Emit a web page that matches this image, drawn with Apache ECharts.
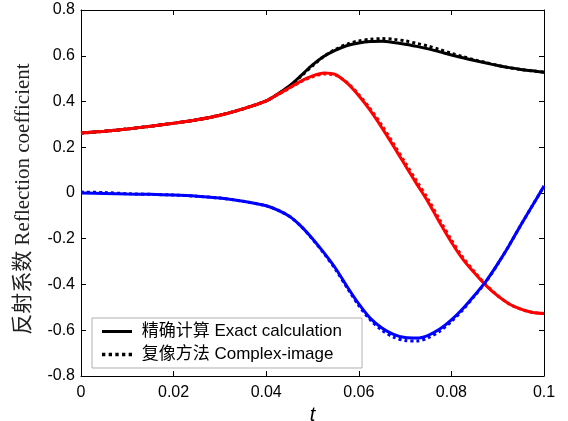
<!DOCTYPE html>
<html>
<head>
<meta charset="utf-8">
<script src="https://cdn.jsdelivr.net/npm/echarts@6/dist/echarts.min.js"></script>
<style>html,body{margin:0;padding:0;background:#fff;}#c{width:568px;height:421px;}</style>
</head>
<body>
<div id="c"></div>
<script>
var tVals = [0, 0.005, 0.01, 0.015, 0.02, 0.025, 0.03, 0.035, 0.04,
  0.0425, 0.045, 0.0475, 0.05, 0.0525, 0.055, 0.0575, 0.06, 0.0625, 0.065, 0.0675, 0.07,
  0.0725, 0.075, 0.0775, 0.08, 0.0825, 0.085, 0.0875, 0.09, 0.0925, 0.095, 0.0975, 0.1];
var xTicks = ['0', '0.02', '0.04', '0.06', '0.08', '0.1'];
var yTicks = ['-0.8', '-0.6', '-0.4', '-0.2', '0', '0.2', '0.4', '0.6', '0.8'];
var legendNames = ['精确计算 Exact calculation', '复像方法 Complex-image'];

var blackExact = [0.262, 0.270, 0.280, 0.292, 0.305, 0.320, 0.340, 0.368, 0.403,
  0.433, 0.468, 0.513, 0.560, 0.598, 0.625, 0.645, 0.656, 0.662, 0.663, 0.658, 0.650,
  0.641, 0.630, 0.617, 0.603, 0.591, 0.579, 0.568, 0.557, 0.548, 0.540, 0.534, 0.528];
var blackImage = [0.262, 0.270, 0.280, 0.292, 0.305, 0.320, 0.340, 0.368, 0.403,
  0.432, 0.466, 0.510, 0.556, 0.598, 0.628, 0.651, 0.665, 0.672, 0.675, 0.672, 0.665,
  0.654, 0.642, 0.627, 0.611, 0.596, 0.582, 0.570, 0.558, 0.548, 0.540, 0.534, 0.528];
var redExact = [0.262, 0.270, 0.280, 0.292, 0.305, 0.320, 0.340, 0.368, 0.403,
  0.431, 0.460, 0.489, 0.512, 0.525, 0.518, 0.480, 0.425, 0.360, 0.285, 0.205, 0.122,
  0.040, -0.040, -0.130, -0.215, -0.290, -0.350, -0.405, -0.450, -0.485, -0.508, -0.522, -0.527];
var redImage = [0.262, 0.270, 0.280, 0.292, 0.305, 0.320, 0.340, 0.368, 0.403,
  0.430, 0.458, 0.487, 0.508, 0.520, 0.515, 0.482, 0.430, 0.368, 0.295, 0.215, 0.133,
  0.052, -0.028, -0.118, -0.205, -0.282, -0.345, -0.402, -0.448, -0.485, -0.508, -0.522, -0.527];
var blueExact = [0.0, -0.002, -0.004, -0.006, -0.009, -0.014, -0.022, -0.036, -0.056,
  -0.075, -0.102, -0.145, -0.200, -0.262, -0.330, -0.410, -0.485, -0.548, -0.590, -0.618, -0.632,
  -0.634, -0.622, -0.595, -0.555, -0.505, -0.447, -0.385, -0.310, -0.228, -0.140, -0.055, 0.030];
var blueImage = [0.004, 0.002, -0.003, -0.006, -0.009, -0.014, -0.022, -0.036, -0.056,
  -0.075, -0.102, -0.145, -0.202, -0.265, -0.335, -0.415, -0.492, -0.555, -0.600, -0.630, -0.645,
  -0.647, -0.633, -0.604, -0.562, -0.510, -0.450, -0.387, -0.311, -0.228, -0.140, -0.055, 0.030];

function pairs(arr) { return tVals.map(function (t, i) { return [t, arr[i]]; }); }

function xLabel(v) { var s = (+v.toFixed(2)).toString(); return xTicks.indexOf(s) >= 0 ? s : ''; }
function yLabel(v) { var s = (+v.toFixed(1)).toString(); return yTicks.indexOf(s) >= 0 ? s : ''; }

function line(name, data, color, dotted, z) {
  return {
    name: name, type: 'line', data: pairs(data), smooth: 0.3, symbol: 'none', z: z,
    lineStyle: { color: color, width: 3, type: dotted ? [3, 3] : 'solid', cap: 'butt' },
    itemStyle: { color: color }
  };
}

var solidIcon = 'path://M0,0H30V3H0Z';
var dotIcon = 'path://M0,0H3V3H0Z M6,0H9V3H6Z M12,0H15V3H12Z M18,0H21V3H18Z M24,0H27V3H24Z';

var chart = echarts.init(document.getElementById('c'), null, { renderer: 'canvas' });
var fontSans = '"Liberation Sans", Arial, sans-serif';
chart.setOption({
  backgroundColor: '#fff',
  animation: false,
  grid: { left: 81, right: 24, top: 10, bottom: 45, containLabel: false, outerBoundsMode: 'none' },
  legend: {
    data: [{ name: legendNames[0], icon: solidIcon }, { name: legendNames[1], icon: dotIcon }],
    formatter: function (n) { return ' ' + n; },
    orient: 'vertical',
    left: 92, top: 318,
    padding: [5, 20, 5, 10],
    itemGap: 6,
    itemWidth: 30, itemHeight: 14,
    borderColor: '#b0b0b0', borderWidth: 1,
    backgroundColor: '#fff',
    textStyle: { fontFamily: fontSans + ', "Noto Sans CJK SC"', fontSize: 17, color: '#000' }
  },
  xAxis: [{
    type: 'value', min: 0, max: 0.1, interval: 0.02, position: 'bottom',
    axisLine: { show: true, onZero: false, lineStyle: { color: '#000', width: 1 } },
    axisTick: { show: true, inside: true, length: 5, lineStyle: { color: '#000' } },
    axisLabel: { formatter: xLabel, color: '#000', fontSize: 16, fontFamily: fontSans, margin: 9 },
    splitLine: { show: false },
    name: 't', nameLocation: 'middle', nameGap: 29,
    nameTextStyle: { fontSize: 20, fontStyle: 'italic', fontFamily: fontSans, color: '#000' }
  }, {
    type: 'value', min: 0, max: 0.1, interval: 0.02, position: 'top',
    axisLine: { show: true, onZero: false, lineStyle: { color: '#000', width: 1 } },
    axisTick: { show: true, inside: true, length: 5, lineStyle: { color: '#000' } },
    axisLabel: { show: false }, splitLine: { show: false }
  }],
  yAxis: [{
    type: 'value', min: -0.8, max: 0.8, interval: 0.2, position: 'left',
    axisLine: { show: true, onZero: false, lineStyle: { color: '#000', width: 1 } },
    axisTick: { show: true, inside: true, length: 5, lineStyle: { color: '#000' } },
    axisLabel: { formatter: yLabel, color: '#000', fontSize: 16, fontFamily: fontSans, margin: 6 },
    splitLine: { show: false },
    name: '反射系数 Reflection coefficient', nameLocation: 'middle', nameGap: 47,
    nameTextStyle: { fontSize: 21, fontFamily: '"Liberation Serif", "Noto Sans CJK SC", serif', color: '#222', padding: [0, 12, 0, 0] }
  }, {
    type: 'value', min: -0.8, max: 0.8, interval: 0.2, position: 'right',
    axisLine: { show: true, onZero: false, lineStyle: { color: '#000', width: 1 } },
    axisTick: { show: true, inside: true, length: 5, lineStyle: { color: '#000' } },
    axisLabel: { show: false }, splitLine: { show: false }
  }],
  series: [
    line(legendNames[0], blackExact, '#000000', false, 2),
    line(legendNames[1], blackImage, '#000000', true, 3),
    line('red exact', redExact, '#ff0000', false, 4),
    line('red image', redImage, '#ff0000', true, 5),
    line('blue exact', blueExact, '#0000ff', false, 4),
    line('blue image', blueImage, '#0000ff', true, 5)
  ]
});
</script>
</body>
</html>
